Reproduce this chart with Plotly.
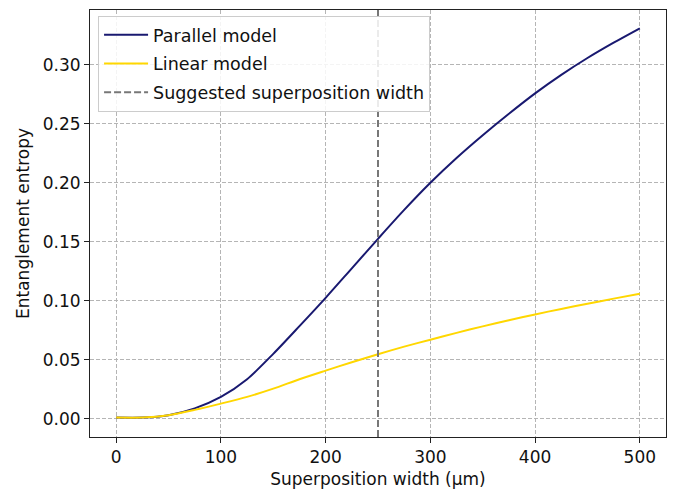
import plotly.graph_objects as go

widths = [0, 25, 50, 75, 100, 125, 150, 175, 200, 225, 250, 275, 300,
          325, 350, 375, 400, 425, 450, 475, 500]
parallel = [0.001, 0.001, 0.003, 0.0088, 0.0185, 0.0335, 0.055, 0.0785, 0.1025,
            0.1275, 0.1525, 0.177, 0.200, 0.221, 0.2403, 0.2585, 0.2758, 0.2915,
            0.3058, 0.3188, 0.331]
linear = [0.001, 0.001, 0.003, 0.0075, 0.0128, 0.0185, 0.0255, 0.0335, 0.0408,
          0.0479, 0.0547, 0.0611, 0.067, 0.0728, 0.0783, 0.0835, 0.0884, 0.0931,
          0.0975, 0.1018, 0.106]
suggested_width = 250
x_ticks = [0, 100, 200, 300, 400, 500]
y_ticks = [0.00, 0.05, 0.10, 0.15, 0.20, 0.25, 0.30]
y_range = [-0.0155, 0.3465]

FONT = "DejaVu Sans"

fig = go.Figure()
fig.add_trace(go.Scatter(x=widths, y=parallel, mode="lines", name="Parallel model",
                         legendgroup="a",
                         line=dict(color="#191970", width=2, shape="spline", smoothing=0.8)))
fig.add_trace(go.Scatter(x=widths, y=linear, mode="lines", name="Linear model",
                         legendgroup="b",
                         line=dict(color="#FFD700", width=2, shape="spline", smoothing=0.8)))
fig.add_trace(go.Scatter(x=[suggested_width, suggested_width], y=y_range,
                         mode="lines", name="Suggested superposition width",
                         legendgroup="c",
                         line=dict(color="#777777", width=2, dash="7px,3px")))

axis_common = dict(showline=True, linecolor="#222222", linewidth=1, mirror=True,
                   ticks="outside", ticklen=5, tickcolor="#222222",
                   showgrid=True, gridcolor="#b5b5b5", gridwidth=1,
                   griddash="4px,2px", zeroline=False,
                   tickfont=dict(family=FONT, size=17, color="#111111"))

fig.update_xaxes(range=[-25, 525], tickvals=x_ticks, ticktext=[str(v) for v in x_ticks],
                 title=dict(text="Superposition width (μm)", standoff=6,
                            font=dict(family=FONT, size=17, color="#111111")),
                 **axis_common)
fig.update_yaxes(range=y_range, tickvals=y_ticks,
                 ticktext=[f"{v:.2f}" for v in y_ticks],
                 title=dict(text="Entanglement entropy", standoff=8,
                            font=dict(family=FONT, size=17, color="#111111")),
                 **axis_common)

fig.update_layout(
    width=673, height=491,
    margin=dict(l=90, r=7, t=10, b=54),
    paper_bgcolor="white", plot_bgcolor="white",
    font=dict(family=FONT, size=17, color="#111111"),
    legend=dict(x=0.014, y=0.986, xanchor="left", yanchor="top",
                bgcolor="rgba(255,255,255,0.85)", bordercolor="#cccccc", borderwidth=1,
                itemwidth=44, tracegroupgap=3, groupclick="toggleitem",
                font=dict(family=FONT, size=17.5, color="#111111")),
    showlegend=True,
)

fig.write_html("out.html")
